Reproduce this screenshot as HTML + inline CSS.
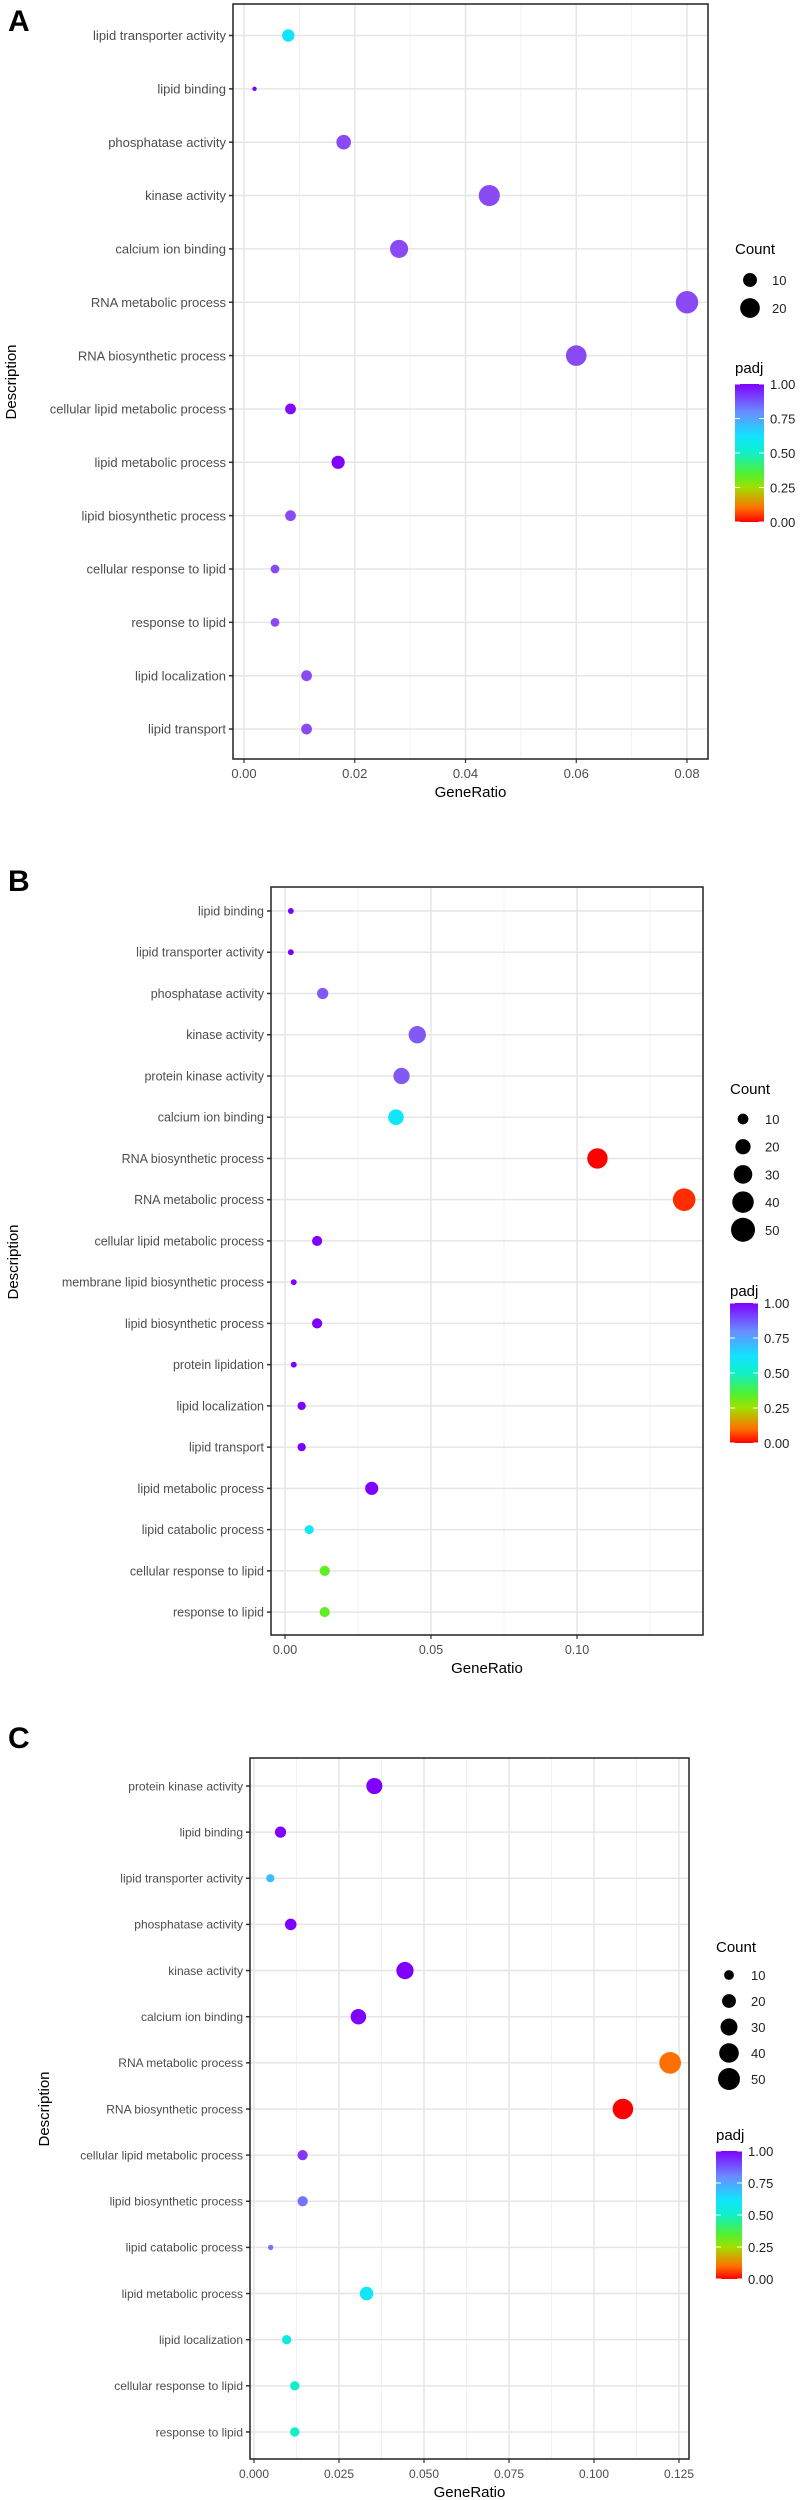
<!DOCTYPE html>
<html><head><meta charset="utf-8">
<style>
html,body{margin:0;padding:0;background:#fff;}
svg{display:block;font-family:"Liberation Sans",Arial,sans-serif;}
</style></head>
<body>
<svg id="fig" width="802" height="2500" viewBox="0 0 802 2500" xmlns="http://www.w3.org/2000/svg">
<defs>
<linearGradient id="padjGrad" x1="0" y1="1" x2="0" y2="0">
<stop offset="0" stop-color="#ff0000"/>
<stop offset="0.1" stop-color="#ff7000"/>
<stop offset="0.25" stop-color="#a0e000"/>
<stop offset="0.35" stop-color="#50f030"/>
<stop offset="0.5" stop-color="#10f0c8"/>
<stop offset="0.62" stop-color="#10e4ff"/>
<stop offset="0.8" stop-color="#6a8cff"/>
<stop offset="1" stop-color="#8000ff"/>
</linearGradient>
</defs>
</svg>
<script>
// ---------- Panel A data ----------
const catsA = ["lipid transporter activity","lipid binding","phosphatase activity","kinase activity","calcium ion binding","RNA metabolic process","RNA biosynthetic process","cellular lipid metabolic process","lipid metabolic process","lipid biosynthetic process","cellular response to lipid","response to lipid","lipid localization","lipid transport"];
const ratioA = [0.008,0.0019,0.018,0.0443,0.028,0.08,0.06,0.0084,0.017,0.0084,0.0056,0.0056,0.0113,0.0113];
const countA = [8,1,11,23,17,26,22,6,9,6,4,4,6,6];
const padjA = [0.62,1.0,0.93,0.93,0.93,0.93,0.93,0.99,1.0,0.93,0.93,0.93,0.93,0.93];
const xTicksA = [0,0.02,0.04,0.06,0.08];
const xTickLabelsA = ["0.00","0.02","0.04","0.06","0.08"];
const sizeBreaksA = [10,20];

// ---------- Panel B data ----------
const catsB = ["lipid binding","lipid transporter activity","phosphatase activity","kinase activity","protein kinase activity","calcium ion binding","RNA biosynthetic process","RNA metabolic process","cellular lipid metabolic process","membrane lipid biosynthetic process","lipid biosynthetic process","protein lipidation","lipid localization","lipid transport","lipid metabolic process","lipid catabolic process","cellular response to lipid","response to lipid"];
const ratioB = [0.002,0.002,0.0129,0.0453,0.0399,0.038,0.107,0.1367,0.011,0.003,0.011,0.003,0.0057,0.0057,0.0297,0.0083,0.0136,0.0136];
const countB = [3,3,11,26,23,21,36,44,9,3,9,3,6,6,15,7,9,9];
const padjB = [1.0,1.0,0.9,0.9,0.9,0.6,0.0,0.04,1.0,1.0,1.0,1.0,1.0,1.0,1.0,0.6,0.33,0.33];
const xTicksB = [0,0.05,0.10];
const xTickLabelsB = ["0.00","0.05","0.10"];
const sizeBreaksB = [10,20,30,40,50];

// ---------- Panel C data ----------
const catsC = ["protein kinase activity","lipid binding","lipid transporter activity","phosphatase activity","kinase activity","calcium ion binding","RNA metabolic process","RNA biosynthetic process","cellular lipid metabolic process","lipid biosynthetic process","lipid catabolic process","lipid metabolic process","lipid localization","cellular response to lipid","response to lipid"];
const ratioC = [0.0354,0.0078,0.0048,0.0108,0.0444,0.0307,0.1224,0.1085,0.0143,0.0143,0.0049,0.0331,0.0096,0.012,0.012];
const countC = [27,13,7,14,31,25,49,44,11,11,3,19,9,9,9];
const padjC = [1.0,1.0,0.7,1.0,1.0,1.0,0.1,0.0,0.95,0.85,0.85,0.6,0.55,0.5,0.5];
const xTicksC = [0,0.025,0.05,0.075,0.10,0.125];
const xTickLabelsC = ["0.000","0.025","0.050","0.075","0.100","0.125"];
const sizeBreaksC = [10,20,30,40,50];
const padjTicks = [1.0,0.75,0.5,0.25,0.0];
const padjTickLabels = ["1.00","0.75","0.50","0.25","0.00"];

const NS = "http://www.w3.org/2000/svg";
const svg = document.getElementById('fig');
const colStops = [[0,[255,0,0]],[0.1,[255,112,0]],[0.25,[160,224,0]],[0.35,[80,240,48]],[0.5,[16,240,200]],[0.62,[16,228,255]],[0.8,[106,140,255]],[0.93,[138,74,243]],[1,[128,0,255]]];
function padjColor(p){
  for(let i=1;i<colStops.length;i++){
    if(p<=colStops[i][0]){
      const a=colStops[i-1],b=colStops[i];const t=(p-a[0])/(b[0]-a[0]);
      const c=a[1].map((v,k)=>Math.round(v+(b[1][k]-v)*t));
      return 'rgb('+c.join(',')+')';
    }
  }
  return 'rgb(128,0,255)';
}
function mk(tag, attrs, parent, text){
  const e=document.createElementNS(NS,tag);
  for(const k in attrs) e.setAttribute(k,attrs[k]);
  if(text!==undefined) e.textContent=text;
  (parent||svg).appendChild(e);
  return e;
}

function drawPanel(o){
  const g=mk('g',{});
  
  
  const x = v => o.x0 + (v)*(o.x1px-o.x0)/o.x1val;
  const y = i => o.rowFirst + i*o.rowStep;
  // panel letter
  const lt=mk('text',{x:o.letterX,y:o.letterY,'font-size':30,'font-weight':'bold',fill:'#000'},g,o.letter);
  
  
  // minor grid
  const step=o.ticks[1]-o.ticks[0];
  for(let v=o.ticks[0]-step/2; x(v)<o.R; v+=step){
    if(x(v)>o.L){
      const ln=mk('line',{x1:x(v),x2:x(v),y1:o.T,y2:o.B,stroke:'#f2f2f2','stroke-width':1},g);
      
      
    }
  }
  o.ticks.forEach((v,i)=>{
    const ln=mk('line',{x1:x(v),x2:x(v),y1:o.T,y2:o.B,stroke:'#e6e6e6','stroke-width':1.5},g);
    
    
    const tk=mk('line',{x1:x(v),x2:x(v),y1:o.B,y2:o.B+4,stroke:'#333','stroke-width':1.2},g);
    
    
    const tl=mk('text',{x:x(v),y:o.B+19,'font-size':o.fs,fill:'#4d4d4d','text-anchor':'middle'},g,o.tickLabels[i]);
    
    
  });
  o.cats.forEach((c,i)=>{
    const ln=mk('line',{x1:o.L,x2:o.R,y1:y(i),y2:y(i),stroke:'#e6e6e6','stroke-width':1.5},g);
    
    
    const tk=mk('line',{x1:o.L-4,x2:o.L,y1:y(i),y2:y(i),stroke:'#333','stroke-width':1.5},g);
    
    
    const tl=mk('text',{x:o.L-7,y:y(i)+o.fs*0.36,'font-size':o.fs,fill:'#4d4d4d','text-anchor':'end'},g,c);
    
    
  });
  // points
  o.cats.forEach((c,i)=>{
    const pt=mk('circle',{cx:x(o.ratio[i]),cy:y(i),r:o.k*Math.sqrt(o.count[i]),fill:padjColor(o.padj[i])},g);
    
    
  });
  const br=mk('rect',{x:o.L,y:o.T,width:o.R-o.L,height:o.B-o.T,fill:'none',stroke:'#222','stroke-width':1.5},g);
  
  
  const xt=mk('text',{x:(o.L+o.R)/2,y:o.B+38,'font-size':15,fill:'#000','text-anchor':'middle'},g,'GeneRatio');
  
  
  const yt=mk('text',{x:0,y:0,'font-size':15,fill:'#000','text-anchor':'middle',transform:'translate('+o.descX+','+o.descY+') rotate(-90)'},g,'Description');
  
  
  // size legend
  const ct=mk('text',{x:o.legX,y:o.countTitleY,'font-size':15,fill:'#000'},g,'Count');
  
  
  o.sizeBreaks.forEach((s,i)=>{
    const cy=o.sizeY0+i*o.sizeStep;
    const c=mk('circle',{cx:o.legCx,cy:cy,r:o.k*Math.sqrt(s),fill:'#000'},g);
    
    
    const t=mk('text',{x:o.legCx+22,y:cy+5,'font-size':13,fill:'#222'},g,String(s));
    
    
  });
  // colour legend
  const pt=mk('text',{x:o.legX,y:o.padjTitleY,'font-size':15,fill:'#000'},g,'padj');
  
  
  const cb=mk('rect',{x:o.barX,y:o.barT,width:o.barW,height:o.barB-o.barT,fill:'url(#padjGrad)'},g);
  
  
  padjTicks.forEach((p,i)=>{
    const yy=o.barB-(o.barB-o.barT)*p;
    const m1=mk('line',{x1:o.barX,x2:o.barX+5,y1:yy,y2:yy,stroke:'#fff','stroke-width':1},g);
    
    
    const m2=mk('line',{x1:o.barX+o.barW-5,x2:o.barX+o.barW,y1:yy,y2:yy,stroke:'#fff','stroke-width':1},g);
    
    
    const t=mk('text',{x:o.barX+o.barW+6,y:yy+5,'font-size':13,fill:'#222'},g,padjTickLabels[i]);
    
    
  });
}

drawPanel({id:'a',letter:'A',letterX:8,letterY:31,cats:catsA,ratio:ratioA,count:countA,padj:padjA,ticks:xTicksA,tickLabels:xTickLabelsA,sizeBreaks:sizeBreaksA,
  L:233,R:708,T:4,B:759,x0:244,x1px:687,x1val:0.08,rowFirst:35.5,rowStep:53.35,fs:13,k:2.2,
  descX:16,descY:382,legX:735,countTitleY:254,legCx:750,sizeY0:280,sizeStep:28,padjTitleY:373,barX:735,barT:384,barW:29,barB:522});
drawPanel({id:'b',letter:'B',letterX:8,letterY:891,cats:catsB,ratio:ratioB,count:countB,padj:padjB,ticks:xTicksB,tickLabels:xTickLabelsB,sizeBreaks:sizeBreaksB,
  L:271,R:703,T:887,B:1635,x0:285,x1px:577,x1val:0.10,rowFirst:911,rowStep:41.24,fs:12.5,k:1.7,
  descX:18,descY:1262,legX:730,countTitleY:1094,legCx:743,sizeY0:1119,sizeStep:27.7,padjTitleY:1296,barX:730,barT:1303,barW:28,barB:1443});
drawPanel({id:'c',letter:'C',letterX:8,letterY:1748,cats:catsC,ratio:ratioC,count:countC,padj:padjC,ticks:xTicksC,tickLabels:xTickLabelsC,sizeBreaks:sizeBreaksC,
  L:250,R:689,T:1758,B:2459,x0:254,x1px:679,x1val:0.125,rowFirst:1786,rowStep:46.14,fs:12,k:1.55,
  descX:49,descY:2109,legX:716,countTitleY:1952,legCx:729,sizeY0:1975,sizeStep:26,padjTitleY:2140,barX:716,barT:2151,barW:26,barB:2279});
</script>
</body></html>
